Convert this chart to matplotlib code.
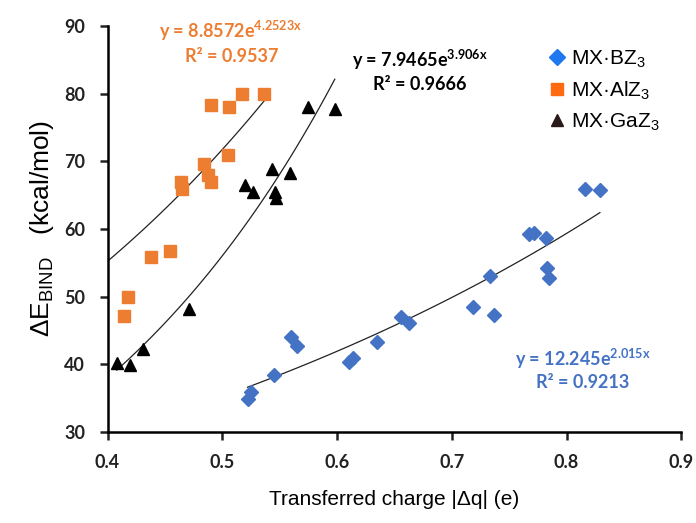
import matplotlib.pyplot as plt
import numpy as np
from matplotlib.lines import Line2D

# data
b_x = [0.522, 0.525, 0.545, 0.560, 0.5655, 0.610, 0.614, 0.6345, 0.6554, 0.663,
       0.718, 0.7333, 0.737, 0.7676, 0.7717, 0.782, 0.783, 0.785, 0.8162, 0.829]
b_y = [34.9, 35.8, 38.4, 44.0, 42.7, 40.3, 40.9, 43.3, 46.9, 46.05,
       48.5, 53.0, 47.3, 59.3, 59.4, 58.7, 54.25, 52.7, 65.9, 65.8]

al_x = [0.414, 0.418, 0.438, 0.4545, 0.464, 0.465, 0.484, 0.4875, 0.490, 0.4905,
        0.505, 0.5056, 0.5175, 0.5364]
al_y = [47.1, 49.9, 55.9, 56.7, 66.9, 65.9, 69.6, 68.0, 66.9, 78.3,
        70.9, 78.1, 80.0, 79.9]

ga_x = [0.408, 0.420, 0.4306, 0.471, 0.520, 0.527, 0.543, 0.546, 0.5466, 0.559, 0.575, 0.598]
ga_y = [40.2, 39.8, 42.3, 48.1, 66.5, 65.5, 68.9, 65.5, 64.6, 68.2, 78.1, 77.8]

# exponential trend curves as drawn (a * exp(b*x)) and their x spans
b_fit, b_span = (14.75, 1.74), (0.522, 0.829)
al_fit, al_span = (19.36, 2.62), (0.40, 0.5364)
ga_fit, ga_span = (7.9465, 3.906), (0.408, 0.598)

blue, orange, black = "#4472C4", "#ED7D31", "#000000"

fig = plt.figure(figsize=(6.96, 5.23), dpi=100)
ax = fig.add_axes([0.1545, 0.1746, 0.8245, 0.7754])

ax.plot(b_x, b_y, "D", color=blue, ms=6.9, mec=blue, zorder=3)
ax.plot(al_x, al_y, "s", color=orange, ms=8.5, mec=orange, zorder=3)
ax.plot(ga_x, ga_y, "^", color=black, ms=8.5, zorder=3)

for (a, k), (x0, x1) in [(b_fit, b_span), (al_fit, al_span), (ga_fit, ga_span)]:
    xx = np.linspace(x0, x1, 100)
    ax.plot(xx, a * np.exp(k * xx), color="#222222", lw=0.9, zorder=2)

ax.set_xlim(0.4, 0.9)
ax.set_ylim(30, 90)
ax.set_xticks(np.arange(0.4, 0.91, 0.1))
ax.set_yticks(range(30, 91, 10))
ax.set_xticklabels(["0.4", "0.5", "0.6", "0.7", "0.8", "0.9"])
for s in ["top", "right"]:
    ax.spines[s].set_visible(False)
for s in ["left", "bottom"]:
    ax.spines[s].set_linewidth(1.8)
ax.tick_params(width=1.8, length=6, labelsize=13, pad=10, colors="#222222")
for lab in ax.get_xticklabels() + ax.get_yticklabels():
    lab.set_fontfamily("Lato")
    lab.set_fontweight("bold")

ax.set_xlabel("Transferred charge |Δq| (e)", fontsize=15, family="Liberation Sans", labelpad=14)
ax.set_ylabel(r"ΔE$_\mathregular{BIND}$   (kcal/mol)", fontsize=19, family="Liberation Sans", labelpad=6)

tk = dict(fontsize=13, family="Lato", fontweight="bold", ha="center", va="center", transform=fig.transFigure)
def put(xp, yp, s, c):
    fig.text(xp / 696, 1 - yp / 523, s, color=c, **tk)

put(231, 31, r"y = 8.8572e$^\mathregular{4.2523x}$", orange)
put(232, 57, "R² = 0.9537", orange)
put(420, 60, r"y = 7.9465e$^\mathregular{3.906x}$", black)
put(420, 85, "R² = 0.9666", black)
put(583, 359, r"y = 12.245e$^\mathregular{2.015x}$", blue)
put(583, 383, "R² = 0.9213", blue)

handles = [
    Line2D([], [], ls="", marker="D", color="#1E78F0", ms=8),
    Line2D([], [], ls="", marker="s", color="#FF6A10", ms=8),
    Line2D([], [], ls="", marker="^", color="#2A1A1A", ms=8),
]
labels = [r"MX·BZ$_\mathregular{3}$", r"MX·AlZ$_\mathregular{3}$", r"MX·GaZ$_\mathregular{3}$"]
fig.legend(handles, labels, loc="upper left", bbox_to_anchor=(538 / 696, 1 - 38 / 523),
           frameon=False, handlelength=0.8, handletextpad=0.3, labelspacing=0.45,
           prop={"family": "Liberation Sans", "size": 15}, borderpad=0)

fig.savefig("out.png", dpi=100)
